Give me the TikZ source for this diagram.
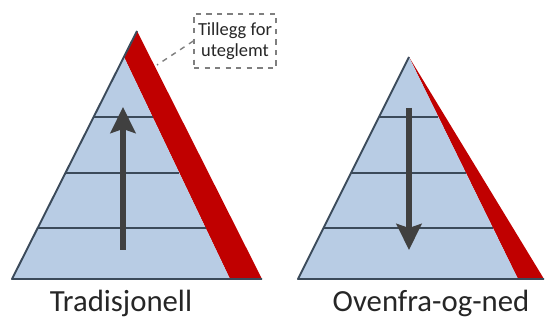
\documentclass[tikz,border=0pt]{standalone}
\usepackage{fontspec}
\setmainfont{Carlito}
\usepackage{xcolor}
\usetikzlibrary{arrows.meta, calc}
\definecolor{pyrblue}{HTML}{B8CCE4}
\definecolor{pyrline}{HTML}{3B4A5A}
\definecolor{pyrred}{HTML}{C00000}
\definecolor{pyrarrow}{HTML}{404040}
\definecolor{pyrtext}{HTML}{262626}
\definecolor{notegray}{HTML}{7F7F7F}

\begin{document}
\begin{tikzpicture}[
    x=0.02cm, y=-0.02cm,
    edge/.style={draw=pyrline, line width=1.1pt, line join=round},
    level/.style={draw=pyrline, line width=1.1pt},
    flow/.style={-{Stealth[length=0.52cm, width=0.5cm, inset=0.08cm]}, pyrarrow, line width=3pt},
    title/.style={font=\fontsize{17.5}{21}\selectfont, text=pyrtext, anchor=base},
    note/.style={draw=notegray, dashed, line width=0.8pt, minimum width=1.64cm, minimum height=1.08cm, align=center, inner sep=1pt, font=\fontsize{10.5}{12}\selectfont, text=pyrtext},
    notelink/.style={draw=notegray, dashed, line width=0.8pt},
]
\useasboundingbox (0,0) rectangle (545,320);

% Tradisjonell
\coordinate (ltop) at (137,31);
\coordinate (lleft) at (12,279);
\coordinate (lright) at (262,279);
\coordinate (lin) at (124,57);
\coordinate (linb) at (230,279);
\fill[pyrred] (ltop) -- (lright) -- (linb) -- (lin) -- cycle;
\fill[pyrblue] (lleft) -- (linb) -- (lin) -- cycle;
\foreach \t in {0.23,0.477,0.73}
  \draw[level] ($(lleft)!\t!(lin)$) -- ($(linb)!\t!(lin)$);
\draw[edge] (ltop) -- (lleft) -- (lright);
\coordinate (lfrom) at (123,250);
\coordinate (lto) at (123,107);
\draw[flow] (lfrom) -- (lto);
\node[title] (ltitle) at (121,312) {Tradisjonell};

% Ovenfra-og-ned
\coordinate (rtop) at (409,57);
\coordinate (rleft) at (298,279);
\coordinate (rright) at (544,279);
\coordinate (rinb) at (518,279);
\fill[pyrred] (rtop) -- (rright) -- (rinb) -- cycle;
\fill[pyrblue] (rleft) -- (rinb) -- (rtop) -- cycle;
\foreach \t in {0.23,0.477,0.73}
  \draw[level] ($(rleft)!\t!(rtop)$) -- ($(rinb)!\t!(rtop)$);
\draw[edge] (rtop) -- (rleft) -- (rright);
\coordinate (rfrom) at (409,108);
\coordinate (rto) at (409,250);
\draw[flow] (rfrom) -- (rto);
\node[title] (rtitle) at (431,312) {Ovenfra-og-ned};

% callout
\node[note] (tillegg) at (235,41) {Tillegg for\\uteglemt};
\coordinate (tilleggtip) at (157,65);
\draw[notelink] (tillegg.west) -- (tilleggtip);

\end{tikzpicture}
\end{document}
